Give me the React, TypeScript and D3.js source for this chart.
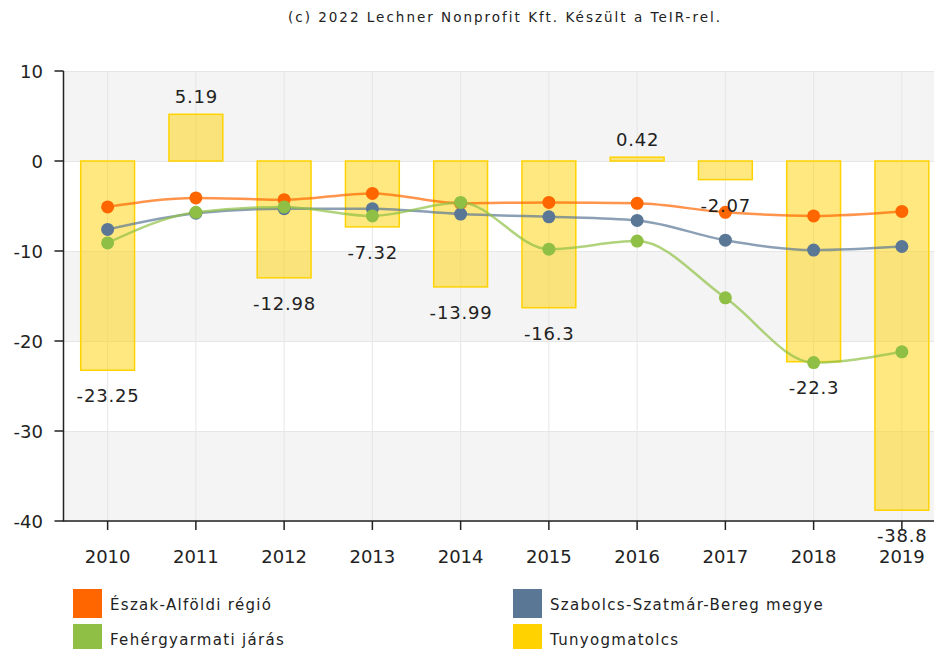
import React from "react";
import * as d3 from "d3";

const years = ["2010", "2011", "2012", "2013", "2014", "2015", "2016", "2017", "2018", "2019"];
const barValues = [-23.25, 5.19, -12.98, -7.32, -13.99, -16.3, 0.42, -2.07, -22.3, -38.8];
const eszakAlfoldi = [-5.1, -4.1, -4.3, -3.6, -4.7, -4.6, -4.7, -5.7, -6.1, -5.6];
const szabolcs = [-7.6, -5.8, -5.3, -5.3, -5.9, -6.2, -6.6, -8.8, -9.9, -9.5];
const fehergyarmati = [-9.1, -5.7, -5.1, -6.1, -4.6, -9.8, -8.9, -15.2, -22.4, -21.2];
const yTicks = [10, 0, -10, -20, -30, -40];

const lineSeries = [
  { name: "Észak-Alföldi régió", color: "#ff6600", values: eszakAlfoldi },
  { name: "Szabolcs-Szatmár-Bereg megye", color: "#5b7796", values: szabolcs },
  { name: "Fehérgyarmati járás", color: "#8fc045", values: fehergyarmati },
];
const barName = "Tunyogmatolcs";
const barColor = "#ffd200";

const FONT = "'DejaVu Sans', Verdana, sans-serif";

export default function App() {
  const W = 934;
  const H = 649;
  const left = 63.5;
  const right = 946;
  const top = 71;
  const bottom = 521;

  const x = d3.scaleBand<string>().domain(years).range([left, right]).padding(0);
  const y = d3.scaleLinear().domain([-40, 10]).range([bottom, top]);
  const bw = x.bandwidth();
  const cx = (yr: string) => (x(yr) as number) + bw / 2;
  const barW = bw * 0.61;

  const line = d3
    .line<number>()
    .x((_, i) => cx(years[i]))
    .y((d) => y(d))
    .curve(d3.curveMonotoneX);

  const bands: number[][] = [];
  for (let i = 0; i < yTicks.length - 1; i++) {
    bands.push([yTicks[i], yTicks[i + 1]]);
  }

  return (
    <svg width={W} height={H} style={{ position: "absolute", left: 0, top: 0, background: "#fff" }} fontFamily={FONT}>
      <text x={505} y={22} textAnchor="middle" fontSize={13.5} letterSpacing={2} fill="#222">
        (c) 2022 Lechner Nonprofit Kft. Készült a TeIR-rel.
      </text>

      {/* alternating bands */}
      {bands.map((b, i) => (
        <rect
          key={"band" + i}
          x={left}
          y={y(b[0])}
          width={right - left}
          height={y(b[1]) - y(b[0])}
          fill={i % 2 === 0 ? "#f4f4f4" : "#ffffff"}
        />
      ))}
      {/* grid */}
      {yTicks.map((t) => (
        <line key={"gy" + t} x1={left} x2={right} y1={y(t) + 0.5} y2={y(t) + 0.5} stroke="#e6e6e6" />
      ))}
      {years.map((yr) => (
        <line key={"gx" + yr} x1={cx(yr)} x2={cx(yr)} y1={top} y2={bottom} stroke="#e6e6e6" />
      ))}

      {/* bars */}
      {barValues.map((v, i) => {
        const y0 = y(0);
        const y1 = y(v);
        return (
          <rect
            key={"bar" + i}
            x={cx(years[i]) - barW / 2}
            y={Math.min(y0, y1)}
            width={barW}
            height={Math.abs(y1 - y0)}
            fill={barColor}
            fillOpacity={0.5}
            stroke={barColor}
            strokeWidth={1.5}
          />
        );
      })}

      {/* lines */}
      {lineSeries.map((s) => (
        <path key={"l" + s.name} d={line(s.values) || ""} fill="none" stroke={s.color} strokeWidth={2.5} strokeOpacity={0.7} />
      ))}
      {lineSeries.map((s) =>
        s.values.map((v, i) => (
          <circle key={"m" + s.name + i} cx={cx(years[i])} cy={y(v)} r={6.5} fill={s.color} />
        ))
      )}

      {/* axes */}
      <line x1={left} x2={left} y1={top} y2={bottom} stroke="#222" strokeWidth={1.5} />
      {yTicks.map((t) => (
        <g key={"yt" + t}>
          <line x1={left - 9} x2={left} y1={y(t)} y2={y(t)} stroke="#222" strokeWidth={1.5} />
          <text x={43} y={y(t) + 6.5} textAnchor="end" fontSize={18} fill="#222">
            {t}
          </text>
        </g>
      ))}
      <line x1={left - 0.75} x2={W} y1={bottom} y2={bottom} stroke="#222" strokeWidth={1.5} />
      {years.map((yr) => (
        <g key={"xt" + yr}>
          <line x1={cx(yr)} x2={cx(yr)} y1={bottom} y2={bottom + 9} stroke="#222" strokeWidth={1.5} />
          <text x={cx(yr)} y={563} textAnchor="middle" fontSize={18} fill="#222">
            {yr}
          </text>
        </g>
      ))}

      {/* data labels */}
      {barValues.map((v, i) => (
        <text
          key={"dl" + i}
          x={cx(years[i]) + 0.4}
          y={v >= 0 ? y(v) - 11 : y(v) + 32}
          textAnchor="middle"
          fontSize={18}
          letterSpacing={0.8}
          fill="#222"
        >
          {String(v)}
        </text>
      ))}

      {/* legend */}
      {[
        { name: lineSeries[0].name, color: lineSeries[0].color, lx: 73, ly: 589 },
        { name: lineSeries[1].name, color: lineSeries[1].color, lx: 513, ly: 589 },
        { name: lineSeries[2].name, color: lineSeries[2].color, lx: 73, ly: 624 },
        { name: barName, color: barColor, lx: 513, ly: 624 },
      ].map((l) => (
        <g key={"lg" + l.name}>
          <rect x={l.lx} y={l.ly} width={29} height={29} fill={l.color} />
          <text x={l.lx + 37} y={l.ly + 21} fontSize={15} letterSpacing={1.3} fill="#222">
            {l.name}
          </text>
        </g>
      ))}
    </svg>
  );
}
